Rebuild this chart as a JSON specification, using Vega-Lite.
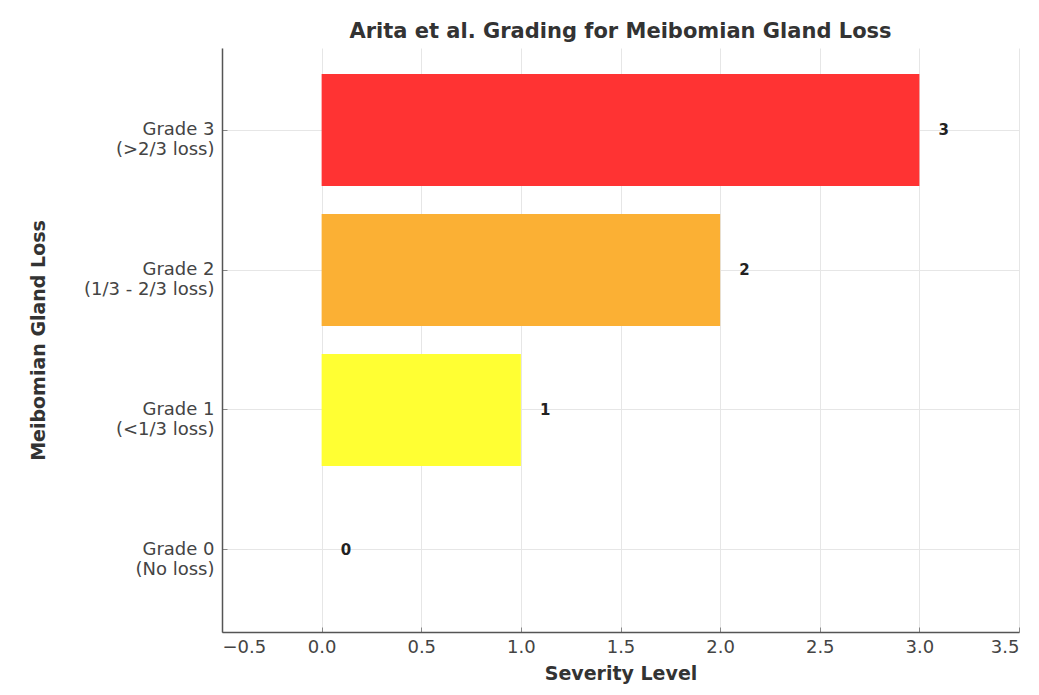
{
  "$schema": "https://vega.github.io/schema/vega-lite/v6.json",
  "autosize": {"type": "none"},
  "width": 797,
  "height": 584,
  "padding": {"left": 222, "top": 48, "right": 20, "bottom": 63},
  "background": "white",
  "title": {
    "text": "Arita et al. Grading for Meibomian Gland Loss",
    "font": "DejaVu Sans",
    "fontSize": 21,
    "fontWeight": "bold",
    "color": "#333333",
    "offset": 6
  },
  "data": {
    "values": [
      {"grade": "Grade 0|(No loss)", "order": 0, "severity": 0, "color": "#33CC33"},
      {"grade": "Grade 1|(<1/3 loss)", "order": 1, "severity": 1, "color": "#FFFF33"},
      {"grade": "Grade 2|(1/3 - 2/3 loss)", "order": 2, "severity": 2, "color": "#FBB034"},
      {"grade": "Grade 3|(>2/3 loss)", "order": 3, "severity": 3, "color": "#FF3333"}
    ]
  },
  "encoding": {
    "y": {
      "field": "grade",
      "type": "nominal",
      "sort": {"field": "order", "order": "descending"},
      "scale": {"paddingInner": 0.2, "paddingOuter": 0.186},
      "axis": {
        "title": "Meibomian Gland Loss",
        "labelExpr": "split(datum.label, '|')",
        "labelFont": "DejaVu Sans",
        "labelFontSize": 18,
        "labelColor": "#444444",
        "labelLineHeight": 20,
        "labelPadding": 13,
        "titleFont": "DejaVu Sans",
        "titleFontSize": 19,
        "titleFontWeight": "bold",
        "titleColor": "#333333",
        "titlePadding": 35,
        "tickSize": -5,
        "tickColor": "#888888",
        "domainColor": "#555555",
        "domainWidth": 1.5,
        "grid": true,
        "gridColor": "#e6e6e6"
      }
    }
  },
  "layer": [
    {
      "mark": {"type": "bar", "orient": "horizontal"},
      "encoding": {
        "x": {
          "field": "severity",
          "type": "quantitative",
          "scale": {"domain": [-0.5, 3.5], "nice": false, "zero": false},
          "axis": {
            "title": "Severity Level",
            "values": [-0.5, 0, 0.5, 1, 1.5, 2, 2.5, 3, 3.5],
            "format": ".1f",
            "labelExpr": "replace(datum.label, '-', '\u2212')",
            "labelFont": "DejaVu Sans",
            "labelFontSize": 18,
            "labelColor": "#444444",
            "labelPadding": 11,
            "titleFont": "DejaVu Sans",
            "titleFontSize": 19,
            "titleFontWeight": "bold",
            "titleColor": "#333333",
            "titlePadding": 8,
            "tickSize": -5,
            "tickColor": "#888888",
            "domainColor": "#555555",
            "domainWidth": 1.5,
            "grid": true,
            "gridColor": "#e6e6e6"
          }
        },
        "x2": {"datum": 0},
        "color": {"field": "color", "type": "nominal", "scale": null}
      }
    },
    {
      "mark": {"type": "text", "align": "left", "dx": 19, "font": "DejaVu Sans", "fontSize": 15, "fontWeight": "bold", "color": "#222222"},
      "encoding": {
        "x": {"field": "severity", "type": "quantitative"},
        "text": {"field": "severity", "type": "quantitative"}
      }
    }
  ],
  "config": {"view": {"stroke": null}}
}
